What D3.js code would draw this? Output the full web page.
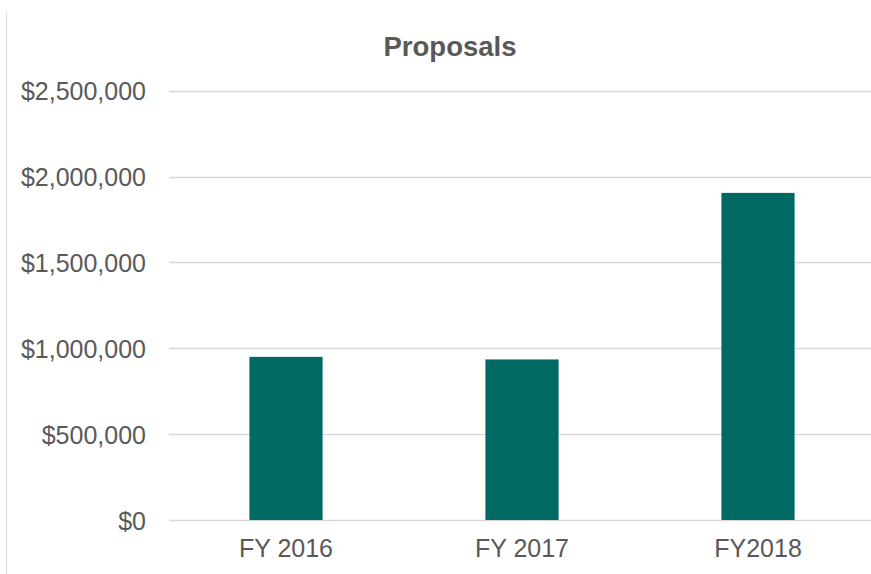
<!DOCTYPE html>
<html><head><meta charset="utf-8">
<script src="https://cdn.jsdelivr.net/npm/d3@7"></script>
<style>body{margin:0;background:#fff}svg{display:block}text{font-family:"Liberation Sans",Arial,sans-serif}</style>
</head><body>
<svg id="c" width="871" height="574"></svg>
<script>
const categories = ["FY 2016", "FY 2017", "FY2018"];
const values = [950000, 935000, 1905000];
const yTicks = [0, 500000, 1000000, 1500000, 2000000, 2500000];
const title = "Proposals";

(function () {
const svg = d3.select("#c");
const W = 871, H = 574;
const pLeft = 168, pRight = 876, pTop = 90.7, pBottom = 520;

// faint chart border
svg.append("line").attr("x1", 6.5).attr("x2", 6.5).attr("y1", 13).attr("y2", H)
  .attr("stroke", "#d9d9d9").attr("stroke-width", 1);

const x = d3.scaleBand().domain(categories).range([pLeft, pRight]).paddingInner(0.69).paddingOuter(0.345);
const y = d3.scaleLinear().domain([0, 2500000]).range([pBottom, pTop]);

const fmt = v => "$" + d3.format(",")(v);

const grid = svg.append("g");
grid.selectAll("line").data(yTicks).join("line")
  .attr("x1", pLeft + 1).attr("x2", W)
  .attr("y1", d => Math.round(y(d)) + 0.5).attr("y2", d => Math.round(y(d)) + 0.5)
  .attr("stroke", "#d9d9d9").attr("stroke-width", 1.3);

svg.append("g").selectAll("rect").data(values).join("rect")
  .attr("x", (d, i) => x(categories[i]))
  .attr("width", x.bandwidth())
  .attr("y", d => y(d))
  .attr("height", d => y(0) - y(d))
  .attr("fill", "#006964");

const yAxis = d3.axisLeft(y).tickValues(yTicks).tickFormat(fmt).tickSize(0).tickPadding(0);
const ya = svg.append("g").attr("transform", "translate(146,0)").call(yAxis);
ya.select(".domain").remove();
ya.selectAll("text").attr("fill", "#595959").style("font-size", "25px")
  .style("font-family", "'Liberation Sans', Arial, sans-serif").attr("dy", "0.36em");

const xAxis = d3.axisBottom(x).tickSize(0).tickPadding(0);
const xa = svg.append("g").attr("transform", `translate(0,${pBottom})`).call(xAxis);
xa.select(".domain").remove();
xa.selectAll("text").attr("fill", "#595959").style("font-size", "25px")
  .style("font-family", "'Liberation Sans', Arial, sans-serif").attr("dy", null).attr("y", 36.5);

svg.append("text").attr("x", 450).attr("y", 56).attr("text-anchor", "middle")
  .attr("fill", "#595959").style("font-size", "27.5px").style("font-weight", "bold").text(title);
})();
</script>
</body></html>
